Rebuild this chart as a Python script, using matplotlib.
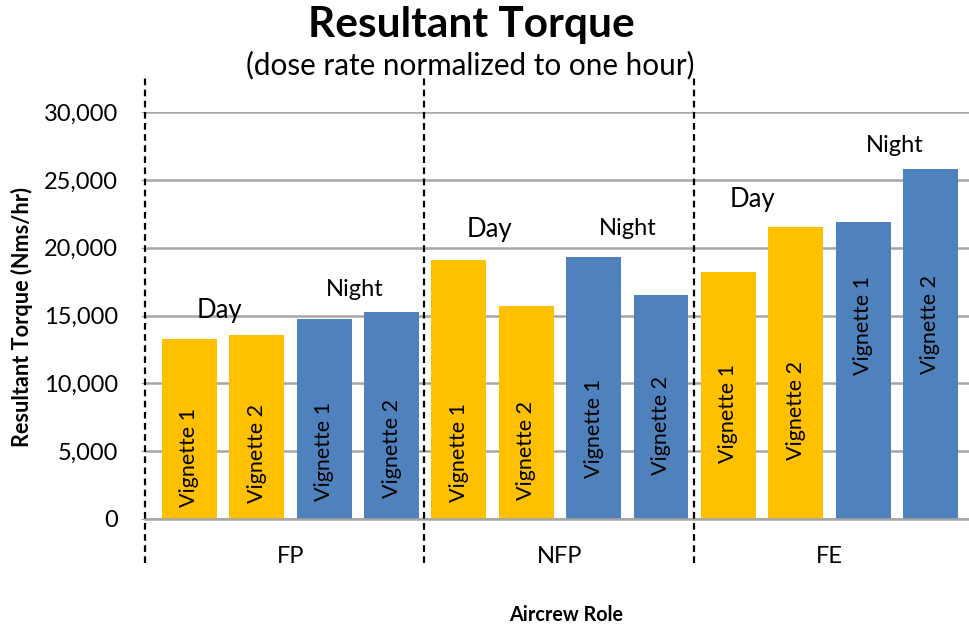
import matplotlib
matplotlib.use("Agg")
import matplotlib.pyplot as plt
from matplotlib.ticker import FuncFormatter

plt.rcParams["font.family"] = ["Lato", "DejaVu Sans"]

# data
roles = ["FP", "NFP", "FE"]
bar_names = ["Vignette 1", "Vignette 2", "Vignette 1", "Vignette 2"] * 3
shifts = ["Day", "Day", "Night", "Night"] * 3
torque = [13250, 13550, 14730, 15240,
          19070, 15680, 19300, 16480,
          18190, 21500, 21880, 25800]

# where the in-bar labels start (bottom of text) and the Day/Night labels sit
name_y = [860, 1160, 1310, 1530,
          1230, 1380, 3000, 3200,
          4100, 4300, 10600, 10700]
shift_labels = ["Day", "Night", "Day", "Night", "Day", "Night"]
shift_x = [0.45, 2.46, 4.46, 6.51, 8.35, 10.47]
shift_y = [14780, 16420, 20800, 20920, 23000, 27070]

colors = {"Day": "#FFC000", "Night": "#4F81BD"}

fig = plt.figure(figsize=(9.7, 6.3), dpi=100)
ax = fig.add_axes([0.1495, 0.1767, 0.8500, 0.6450])

x = list(range(len(torque)))
ax.bar(x, torque, width=0.816, color=[colors[s] for s in shifts], zorder=2)

for xi, name, ny in zip(x, bar_names, name_y):
    ax.text(xi, ny, name, rotation=90, ha="center", va="bottom",
            fontsize=15.5, color="black", zorder=3)

for lab, sx, sy in zip(shift_labels, shift_x, shift_y):
    ax.text(sx, sy, lab, ha="center", va="baseline",
            fontsize=18.5 if lab == "Day" else 17, color="black")

ax.set_xlim(-0.66, 11.58)
ax.set_ylim(0, 30000)
ax.set_yticks(range(0, 30001, 5000))
ax.yaxis.set_major_formatter(FuncFormatter(lambda v, p: f"{int(v):,}"))
ax.tick_params(axis="y", labelsize=17, length=3, color="#A6A6A6", pad=16.5)
ax.set_xticks([])
ax.grid(axis="y", color="#A6A6A6", linewidth=1.8, zorder=0)
ax.set_axisbelow(True)
for side in ["top", "right", "left"]:
    ax.spines[side].set_visible(False)
ax.spines["bottom"].set_color("#A6A6A6")
ax.spines["bottom"].set_linewidth(1.8)

# dashed group separators
for sep in [-0.66, 3.48, 7.49]:
    ax.plot([sep, sep], [-3300, 32500], color="black", linestyle="--",
            linewidth=1.6, dashes=(3, 2), clip_on=False, zorder=4)

# role names under each group
for i, role in enumerate(roles):
    ax.text(4 * i + 1.5, -3270, role, ha="center", va="baseline", fontsize=17)

fig.text(0.486, 0.941, "Resultant Torque", ha="center", va="baseline",
         fontsize=30.5, fontweight="bold")
fig.text(0.485, 0.882, "(dose rate normalized to one hour)", ha="center",
         va="baseline", fontsize=21.3)
fig.text(0.584, 0.015, "Aircrew Role", ha="center", va="baseline",
         fontsize=14.2, fontweight="bold")
fig.text(0.023, 0.497, "Resultant Torque (Nms/hr)", ha="center", va="center",
         rotation=90, fontsize=15.6, fontweight="bold")

fig.savefig("out.png", dpi=100)
